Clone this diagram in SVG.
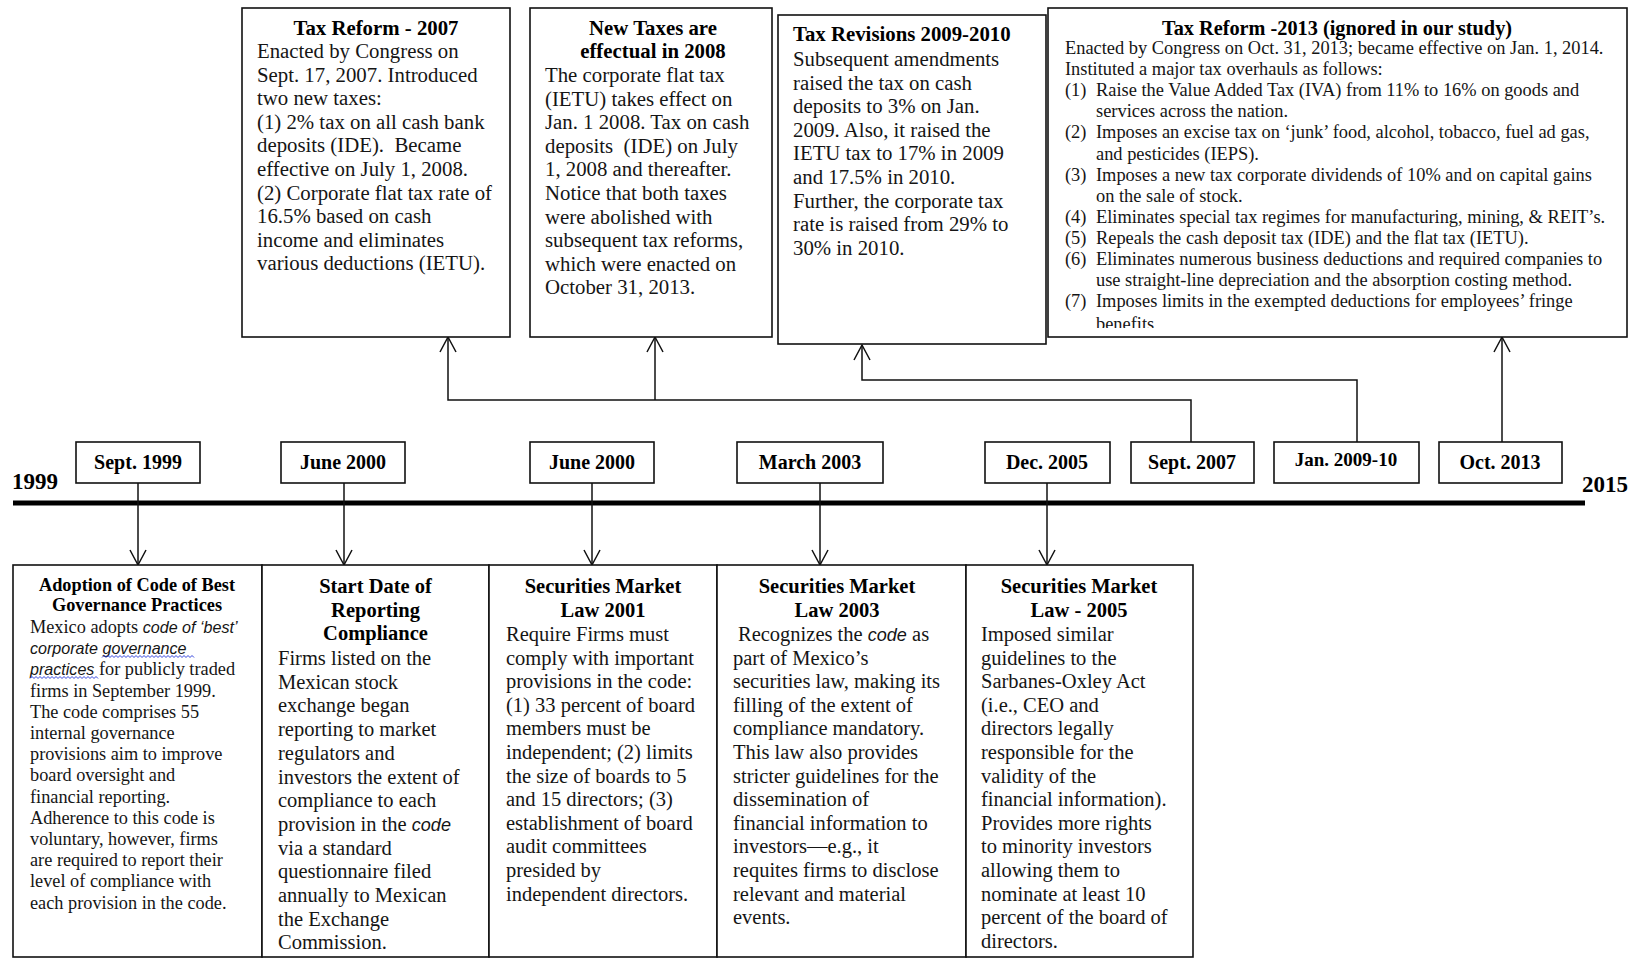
<svg xmlns="http://www.w3.org/2000/svg" width="1635" height="958" viewBox="0 0 1635 958">
<style>
.box{fill:#fff;stroke:#111;stroke-width:1.6}
.t{font-family:"Liberation Serif","Times New Roman",serif;fill:#151515}
.tb{font-family:"Liberation Serif","Times New Roman",serif;font-weight:bold;fill:#000}
.s21{font-size:20.8px}
.s20{font-size:20.5px}
.s18{font-size:18.3px}
.it{font-family:"Liberation Sans",Arial,sans-serif;font-style:italic;font-size:0.88em}
.mid{text-anchor:middle}
.conn{fill:none;stroke:#111;stroke-width:1.5}
.axis{stroke:#000;stroke-width:5}
.wavy{fill:none;stroke:#3344dd;stroke-width:1}
</style>
<defs>
<marker id="arr" markerUnits="userSpaceOnUse" markerWidth="18" markerHeight="18" viewBox="0 0 16 18" refX="15" refY="8" orient="auto" overflow="visible">
<path d="M0,0 L15,8 L0,16" fill="none" stroke="#111" stroke-width="1.5"/>
</marker>
<clipPath id="clip4"><rect x="1048" y="8" width="580" height="320"/></clipPath>
</defs>
<rect width="1635" height="958" fill="#fff"/>

<!-- timeline -->
<g id="timeline">
<line class="axis" x1="13" y1="503" x2="1585" y2="503"/>
<text class="tb" x="12" y="489" font-size="23px">1999</text>
<text class="tb" x="1582" y="492" font-size="23px">2015</text>
</g>

<!-- connectors -->
<g id="connectors">
<path class="conn" d="M138,483 V565" marker-end="url(#arr)"/>
<path class="conn" d="M344,483 V565" marker-end="url(#arr)"/>
<path class="conn" d="M592,483 V565" marker-end="url(#arr)"/>
<path class="conn" d="M820,483 V565" marker-end="url(#arr)"/>
<path class="conn" d="M1047,483 V565" marker-end="url(#arr)"/>
<path class="conn" d="M1191,442 V400 H448 V337" marker-end="url(#arr)"/>
<path class="conn" d="M655,400 V337" marker-end="url(#arr)"/>
<path class="conn" d="M1357,442 V380 H862 V345" marker-end="url(#arr)"/>
<path class="conn" d="M1502,442 V337" marker-end="url(#arr)"/>
</g>

<!-- date boxes -->
<g id="d-sept1999"><rect class="box" x="76" y="442" width="124" height="41"/><text class="tb mid" x="138" y="469" font-size="20px">Sept. 1999</text></g>
<g id="d-june2000a"><rect class="box" x="281" y="442" width="124" height="41"/><text class="tb mid" x="343" y="469" font-size="20px">June 2000</text></g>
<g id="d-june2000b"><rect class="box" x="530" y="442" width="124" height="41"/><text class="tb mid" x="592" y="469" font-size="20px">June 2000</text></g>
<g id="d-march2003"><rect class="box" x="737" y="442" width="146" height="41"/><text class="tb mid" x="810" y="469" font-size="20px">March 2003</text></g>
<g id="d-dec2005"><rect class="box" x="985" y="442" width="125" height="41"/><text class="tb mid" x="1047" y="469" font-size="20px">Dec. 2005</text></g>
<g id="d-sept2007"><rect class="box" x="1131" y="442" width="123" height="41"/><text class="tb mid" x="1192" y="469" font-size="20px">Sept. 2007</text></g>
<g id="d-jan2009"><rect class="box" x="1274" y="442" width="145" height="41"/><text class="tb mid" x="1346" y="466" font-size="19px">Jan. 2009-10</text></g>
<g id="d-oct2013"><rect class="box" x="1439" y="442" width="123" height="41"/><text class="tb mid" x="1500" y="469" font-size="20px">Oct. 2013</text></g>

<!-- top boxes -->
<g id="tax-reform-2007">
<rect class="box" x="242" y="8" width="268" height="329"/>
<text class="tb s21 mid" x="376" y="35">Tax Reform - 2007</text>
<text class="t s21" x="257" y="58">Enacted by Congress on</text>
<text class="t s21" x="257" y="81.6">Sept. 17, 2007. Introduced</text>
<text class="t s21" x="257" y="105.2">two new taxes:</text>
<text class="t s21" x="257" y="128.8">(1) 2% tax on all cash bank</text>
<text class="t s21" x="257" y="152.4" xml:space="preserve">deposits (IDE).  Became</text>
<text class="t s21" x="257" y="176">effective on July 1, 2008.</text>
<text class="t s21" x="257" y="199.6">(2) Corporate flat tax rate of</text>
<text class="t s21" x="257" y="223.2">16.5% based on cash</text>
<text class="t s21" x="257" y="246.8">income and eliminates</text>
<text class="t s21" x="257" y="270.4">various deductions (IETU).</text>
</g>

<g id="new-taxes-2008">
<rect class="box" x="530" y="8" width="242" height="329"/>
<text class="tb s21 mid" x="653" y="35">New Taxes are</text>
<text class="tb s21 mid" x="653" y="58">effectual in 2008</text>
<text class="t s21" x="545" y="82">The corporate flat tax</text>
<text class="t s21" x="545" y="105.6">(IETU) takes effect on</text>
<text class="t s21" x="545" y="129.2">Jan. 1 2008. Tax on cash</text>
<text class="t s21" x="545" y="152.8" xml:space="preserve">deposits  (IDE) on July</text>
<text class="t s21" x="545" y="176.4">1, 2008 and thereafter.</text>
<text class="t s21" x="545" y="200">Notice that both taxes</text>
<text class="t s21" x="545" y="223.6">were abolished with</text>
<text class="t s21" x="545" y="247.2">subsequent tax reforms,</text>
<text class="t s21" x="545" y="270.8">which were enacted on</text>
<text class="t s21" x="545" y="294.4">October 31, 2013.</text>
</g>

<g id="tax-revisions-2009-2010">
<rect class="box" x="778" y="15" width="268" height="329"/>
<text class="tb s21" x="793" y="41">Tax Revisions 2009-2010</text>
<text class="t s21" x="793" y="66">Subsequent amendments</text>
<text class="t s21" x="793" y="89.6">raised the tax on cash</text>
<text class="t s21" x="793" y="113.2">deposits to 3% on Jan.</text>
<text class="t s21" x="793" y="136.8">2009. Also, it raised the</text>
<text class="t s21" x="793" y="160.4">IETU tax to 17% in 2009</text>
<text class="t s21" x="793" y="184">and 17.5% in 2010.</text>
<text class="t s21" x="793" y="207.6">Further, the corporate tax</text>
<text class="t s21" x="793" y="231.2">rate is raised from 29% to</text>
<text class="t s21" x="793" y="254.8">30% in 2010.</text>
</g>

<g id="tax-reform-2013">
<rect class="box" x="1048" y="8" width="579" height="329"/>
<text class="tb mid" x="1337" y="35" font-size="20.3px">Tax Reform -2013 (ignored in our study)</text>
<g clip-path="url(#clip4)" class="t" font-size="18.4px">
<text x="1065" y="54">Enacted by Congress on Oct. 31, 2013; became effective on Jan. 1, 2014.</text>
<text x="1065" y="75.1">Instituted a major tax overhauls as follows:</text>
<text y="96.2"><tspan x="1065">(1)</tspan><tspan x="1096">Raise the Value Added Tax (IVA) from 11% to 16% on goods and</tspan></text>
<text x="1096" y="117.3">services across the nation.</text>
<text y="138.4"><tspan x="1065">(2)</tspan><tspan x="1096">Imposes an excise tax on ‘junk’ food, alcohol, tobacco, fuel ad gas,</tspan></text>
<text x="1096" y="159.5">and pesticides (IEPS).</text>
<text y="180.6"><tspan x="1065">(3)</tspan><tspan x="1096">Imposes a new tax corporate dividends of 10% and on capital gains</tspan></text>
<text x="1096" y="201.7">on the sale of stock.</text>
<text y="222.8"><tspan x="1065">(4)</tspan><tspan x="1096">Eliminates special tax regimes for manufacturing, mining, &amp; REIT’s.</tspan></text>
<text y="243.9"><tspan x="1065">(5)</tspan><tspan x="1096">Repeals the cash deposit tax (IDE) and the flat tax (IETU).</tspan></text>
<text y="265"><tspan x="1065">(6)</tspan><tspan x="1096">Eliminates numerous business deductions and required companies to</tspan></text>
<text x="1096" y="286.1">use straight-line depreciation and the absorption costing method.</text>
<text y="307.2"><tspan x="1065">(7)</tspan><tspan x="1096">Imposes limits in the exempted deductions for employees’ fringe</tspan></text>
<text x="1096" y="330">benefits</text>
</g>
</g>

<!-- bottom boxes -->
<g id="code-adoption">
<rect class="box" x="13" y="565" width="249" height="392"/>
<text class="tb s18 mid" x="137" y="591">Adoption of Code of Best</text>
<text class="tb s18 mid" x="137" y="611">Governance Practices</text>
<text class="t s18" x="30" y="633">Mexico adopts <tspan class="it">code of ‘best’</tspan></text>
<text class="t s18" x="30" y="654.2"><tspan class="it">corporate governance</tspan></text>
<text class="t s18" x="30" y="675.4"><tspan class="it">practices</tspan> for publicly traded</text>
<text class="t s18" x="30" y="696.6">firms in September 1999.</text>
<text class="t s18" x="30" y="717.8">The code comprises 55</text>
<text class="t s18" x="30" y="739">internal governance</text>
<text class="t s18" x="30" y="760.2">provisions aim to improve</text>
<text class="t s18" x="30" y="781.4">board oversight and</text>
<text class="t s18" x="30" y="802.6">financial reporting.</text>
<text class="t s18" x="30" y="823.8">Adherence to this code is</text>
<text class="t s18" x="30" y="845">voluntary, however, firms</text>
<text class="t s18" x="30" y="866.2">are required to report their</text>
<text class="t s18" x="30" y="887.4">level of compliance with</text>
<text class="t s18" x="30" y="908.6">each provision in the code.</text>
<path class="wavy" d="M102,657.5 l2,-2 l2,2 l2,-2 l2,2 l2,-2 l2,2 l2,-2 l2,2 l2,-2 l2,2 l2,-2 l2,2 l2,-2 l2,2 l2,-2 l2,2 l2,-2 l2,2 l2,-2 l2,2 l2,-2 l2,2 l2,-2 l2,2 l2,-2 l2,2 l2,-2 l2,2 l2,-2 l2,2 l2,-2 l2,2 l2,-2 l2,2 l2,-2 l2,2 l2,-2 l2,2 l2,-2 l2,2 l2,-2 l2,2 l2,-2 l2,2 l2,-2 l2,2"/>
<path class="wavy" d="M30,678.5 l2,-2 l2,2 l2,-2 l2,2 l2,-2 l2,2 l2,-2 l2,2 l2,-2 l2,2 l2,-2 l2,2 l2,-2 l2,2 l2,-2 l2,2 l2,-2 l2,2 l2,-2 l2,2 l2,-2 l2,2 l2,-2 l2,2 l2,-2 l2,2 l2,-2 l2,2 l2,-2 l2,2 l2,-2 l2,2 l2,-2 l2,2"/>
</g>

<g id="reporting-start">
<rect class="box" x="262" y="565" width="227" height="392"/>
<text class="tb s20 mid" x="375.5" y="593">Start Date of</text>
<text class="tb s20 mid" x="375.5" y="616.5">Reporting</text>
<text class="tb s20 mid" x="375.5" y="640">Compliance</text>
<text class="t s20" x="278" y="665">Firms listed on the</text>
<text class="t s20" x="278" y="688.7">Mexican stock</text>
<text class="t s20" x="278" y="712.4">exchange began</text>
<text class="t s20" x="278" y="736.1">reporting to market</text>
<text class="t s20" x="278" y="759.8">regulators and</text>
<text class="t s20" x="278" y="783.5">investors the extent of</text>
<text class="t s20" x="278" y="807.2">compliance to each</text>
<text class="t s20" x="278" y="830.9">provision in the <tspan class="it">code</tspan></text>
<text class="t s20" x="278" y="854.6">via a standard</text>
<text class="t s20" x="278" y="878.3">questionnaire filed</text>
<text class="t s20" x="278" y="902">annually to Mexican</text>
<text class="t s20" x="278" y="925.7">the Exchange</text>
<text class="t s20" x="278" y="949.4">Commission.</text>
</g>

<g id="sml-2001">
<rect class="box" x="489" y="565" width="228" height="392"/>
<text class="tb s20 mid" x="603" y="593">Securities Market</text>
<text class="tb s20 mid" x="603" y="616.5">Law 2001</text>
<text class="t s20" x="506" y="641">Require Firms must</text>
<text class="t s20" x="506" y="664.6">comply with important</text>
<text class="t s20" x="506" y="688.2">provisions in the code:</text>
<text class="t s20" x="506" y="711.8">(1) 33 percent of board</text>
<text class="t s20" x="506" y="735.4">members must be</text>
<text class="t s20" x="506" y="759">independent; (2) limits</text>
<text class="t s20" x="506" y="782.6">the size of boards to 5</text>
<text class="t s20" x="506" y="806.2">and 15 directors; (3)</text>
<text class="t s20" x="506" y="829.8">establishment of board</text>
<text class="t s20" x="506" y="853.4">audit committees</text>
<text class="t s20" x="506" y="877">presided by</text>
<text class="t s20" x="506" y="900.6">independent directors.</text>
</g>

<g id="sml-2003">
<rect class="box" x="717" y="565" width="249" height="392"/>
<text class="tb s20 mid" x="837" y="593">Securities Market</text>
<text class="tb s20 mid" x="837" y="616.5">Law 2003</text>
<text class="t s20" x="738" y="641">Recognizes the <tspan class="it">code</tspan> as</text>
<text class="t s20" x="733" y="664.6">part of Mexico’s</text>
<text class="t s20" x="733" y="688.2">securities law, making its</text>
<text class="t s20" x="733" y="711.8">filling of the extent of</text>
<text class="t s20" x="733" y="735.4">compliance mandatory.</text>
<text class="t s20" x="733" y="759">This law also provides</text>
<text class="t s20" x="733" y="782.6">stricter guidelines for the</text>
<text class="t s20" x="733" y="806.2">dissemination of</text>
<text class="t s20" x="733" y="829.8">financial information to</text>
<text class="t s20" x="733" y="853.4">investors—e.g., it</text>
<text class="t s20" x="733" y="877">requites firms to disclose</text>
<text class="t s20" x="733" y="900.6">relevant and material</text>
<text class="t s20" x="733" y="924.2">events.</text>
</g>

<g id="sml-2005">
<rect class="box" x="966" y="565" width="227" height="392"/>
<text class="tb s20 mid" x="1079" y="593">Securities Market</text>
<text class="tb s20 mid" x="1079" y="616.5">Law - 2005</text>
<text class="t s20" x="981" y="641">Imposed similar</text>
<text class="t s20" x="981" y="664.6">guidelines to the</text>
<text class="t s20" x="981" y="688.2">Sarbanes-Oxley Act</text>
<text class="t s20" x="981" y="711.8">(i.e., CEO and</text>
<text class="t s20" x="981" y="735.4">directors legally</text>
<text class="t s20" x="981" y="759">responsible for the</text>
<text class="t s20" x="981" y="782.6">validity of the</text>
<text class="t s20" x="981" y="806.2">financial information).</text>
<text class="t s20" x="981" y="829.8">Provides more rights</text>
<text class="t s20" x="981" y="853.4">to minority investors</text>
<text class="t s20" x="981" y="877">allowing them to</text>
<text class="t s20" x="981" y="900.6">nominate at least 10</text>
<text class="t s20" x="981" y="924.2">percent of the board of</text>
<text class="t s20" x="981" y="947.8">directors.</text>
</g>
</svg>
